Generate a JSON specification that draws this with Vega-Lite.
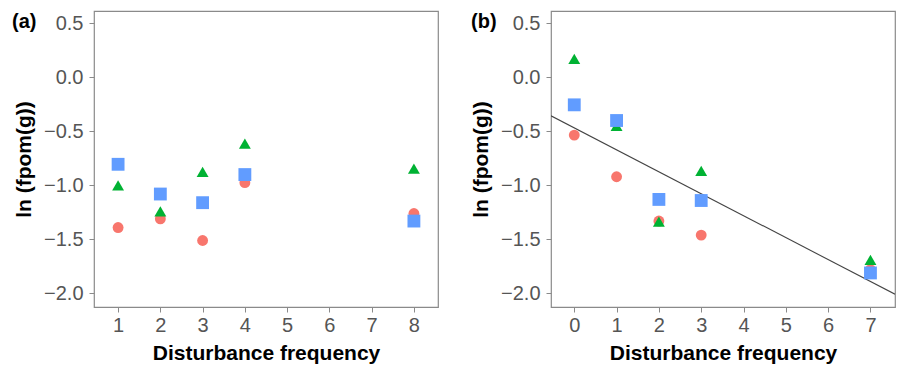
{
  "$schema": "https://vega.github.io/schema/vega-lite/v6.json",
  "padding": {"left": 11, "top": 10, "right": 3, "bottom": 0},
  "config": {
    "font": "Liberation Sans",
    "view": {"stroke": "#8a8a8a", "strokeWidth": 1.2},
    "concat": {"spacing": 30},
    "axis": {
      "grid": false, "domain": false, "ticks": true, "tickColor": "#8a8a8a", "tickSize": 5,
      "labelFontSize": 20, "labelColor": "#555555", "labelFont": "Liberation Sans",
      "titleFontSize": 21, "titleFontWeight": "bold", "titleColor": "#000000", "titleFont": "Liberation Sans"
    },
    "axisX": {"labelPadding": 3, "titlePadding": 7},
    "axisY": {"labelPadding": 6, "titlePadding": 9},
    "title": {"fontSize": 20, "fontWeight": "bold", "color": "#000000", "font": "Liberation Sans", "anchor": "start", "frame": "group", "baseline": "top", "offset": -21}
  },
  "datasets": {
    "a": [
      {"freq": 1, "grp": "g1", "val": -1.39},
      {"freq": 2, "grp": "g1", "val": -1.31},
      {"freq": 3, "grp": "g1", "val": -1.51},
      {"freq": 4, "grp": "g1", "val": -0.975},
      {"freq": 8, "grp": "g1", "val": -1.26},
      {"freq": 1, "grp": "g2", "val": -1.0},
      {"freq": 2, "grp": "g2", "val": -1.24},
      {"freq": 3, "grp": "g2", "val": -0.876},
      {"freq": 4, "grp": "g2", "val": -0.614},
      {"freq": 8, "grp": "g2", "val": -0.845},
      {"freq": 1, "grp": "g3", "val": -0.805},
      {"freq": 2, "grp": "g3", "val": -1.08},
      {"freq": 3, "grp": "g3", "val": -1.16},
      {"freq": 4, "grp": "g3", "val": -0.9},
      {"freq": 8, "grp": "g3", "val": -1.33}
    ],
    "b": [
      {"freq": 0, "grp": "g1", "val": -0.535},
      {"freq": 1, "grp": "g1", "val": -0.92},
      {"freq": 2, "grp": "g1", "val": -1.33},
      {"freq": 3, "grp": "g1", "val": -1.46},
      {"freq": 7, "grp": "g1", "val": -1.78},
      {"freq": 0, "grp": "g2", "val": 0.17},
      {"freq": 1, "grp": "g2", "val": -0.45},
      {"freq": 2, "grp": "g2", "val": -1.335},
      {"freq": 3, "grp": "g2", "val": -0.865},
      {"freq": 7, "grp": "g2", "val": -1.69},
      {"freq": 0, "grp": "g3", "val": -0.255},
      {"freq": 1, "grp": "g3", "val": -0.4},
      {"freq": 2, "grp": "g3", "val": -1.13},
      {"freq": 3, "grp": "g3", "val": -1.14},
      {"freq": 7, "grp": "g3", "val": -1.81}
    ],
    "fit": [
      {"freq": -0.55, "val": -0.356},
      {"freq": 7.58, "val": -2.007}
    ]
  },
  "hconcat": [
    {
      "width": 344, "height": 296,
      "title": {"text": "(a)", "dx": -82},
      "data": {"name": "a"},
      "mark": {"type": "point", "filled": true, "opacity": 1, "strokeWidth": 0},
      "encoding": {
        "x": {"field": "freq", "type": "quantitative", "scale": {"domain": [0.43, 8.57], "nice": false, "zero": false},
              "axis": {"values": [1, 2, 3, 4, 5, 6, 7, 8], "title": "Disturbance frequency", "format": "d"}},
        "y": {"field": "val", "type": "quantitative", "scale": {"domain": [-2.125, 0.613], "nice": false, "zero": false},
              "axis": {"values": [0.5, 0, -0.5, -1, -1.5, -2], "format": ".1f", "title": "ln (fpom(g))"}},
        "color": {"field": "grp", "type": "nominal", "scale": {"domain": ["g1", "g2", "g3"], "range": ["#F8766D", "#00B233", "#619CFF"]}, "legend": null},
        "shape": {"field": "grp", "type": "nominal", "scale": {"domain": ["g1", "g2", "g3"], "range": ["circle", "triangle-up", "square"]}, "legend": null},
        "size": {"field": "grp", "type": "nominal", "scale": {"domain": ["g1", "g2", "g3"], "range": [118, 165, 140]}, "legend": null}
      }
    },
    {
      "width": 344, "height": 296,
      "title": {"text": "(b)", "dx": -80},
      "layer": [
        {
          "data": {"name": "fit"},
          "mark": {"type": "line", "color": "#444444", "strokeWidth": 1.1, "clip": true},
          "encoding": {
            "x": {"field": "freq", "type": "quantitative"},
            "y": {"field": "val", "type": "quantitative"}
          }
        },
        {
          "data": {"name": "b"},
          "mark": {"type": "point", "filled": true, "opacity": 1, "strokeWidth": 0},
          "encoding": {
            "x": {"field": "freq", "type": "quantitative"},
            "y": {"field": "val", "type": "quantitative"},
            "color": {"field": "grp", "type": "nominal", "scale": {"domain": ["g1", "g2", "g3"], "range": ["#F8766D", "#00B233", "#619CFF"]}, "legend": null},
            "shape": {"field": "grp", "type": "nominal", "scale": {"domain": ["g1", "g2", "g3"], "range": ["circle", "triangle-up", "square"]}, "legend": null},
            "size": {"field": "grp", "type": "nominal", "scale": {"domain": ["g1", "g2", "g3"], "range": [118, 165, 140]}, "legend": null}
          }
        }
      ],
      "encoding": {
        "x": {"field": "freq", "type": "quantitative", "scale": {"domain": [-0.55, 7.58], "nice": false, "zero": false},
              "axis": {"values": [0, 1, 2, 3, 4, 5, 6, 7], "title": "Disturbance frequency", "format": "d"}},
        "y": {"field": "val", "type": "quantitative", "scale": {"domain": [-2.125, 0.613], "nice": false, "zero": false},
              "axis": {"values": [0.5, 0, -0.5, -1, -1.5, -2], "format": ".1f", "title": "ln (fpom(g))"}}
      }
    }
  ]
}
